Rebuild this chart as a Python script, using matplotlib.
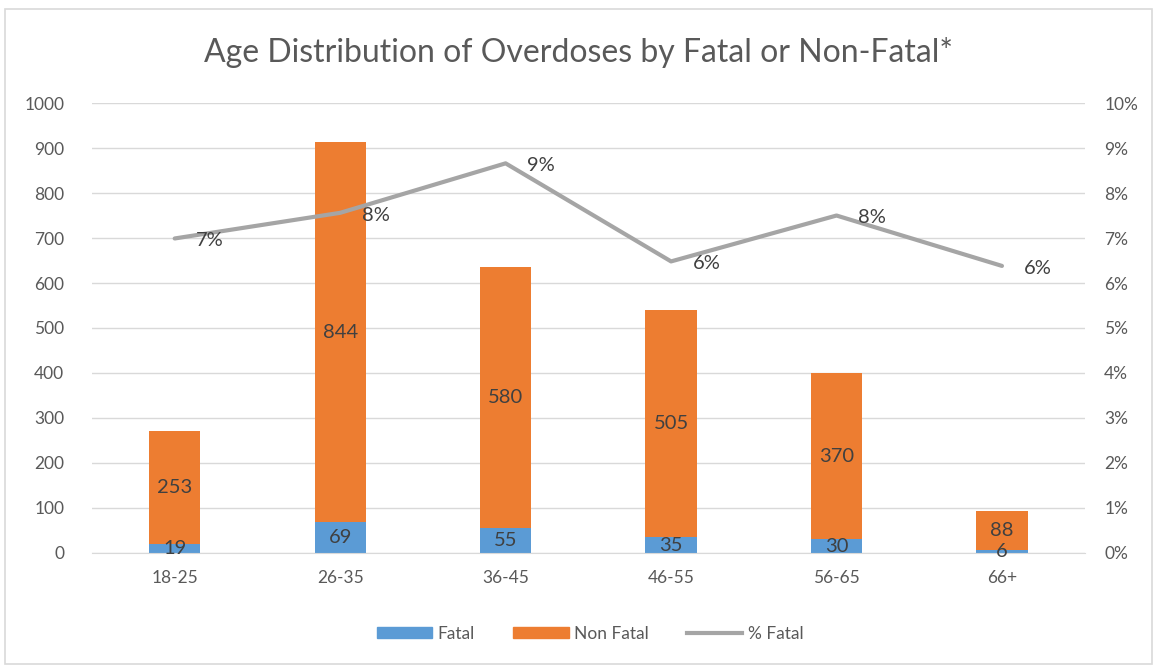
import matplotlib.pyplot as plt
from matplotlib.patches import Rectangle
from matplotlib.lines import Line2D

plt.rcParams['font.family'] = ['Lato', 'DejaVu Sans']

age_groups = ['18-25', '26-35', '36-45', '46-55', '56-65', '66+']
fatal = [19, 69, 55, 35, 30, 6]
non_fatal = [253, 844, 580, 505, 370, 88]
pct_fatal = [6.99, 7.56, 8.66, 6.48, 7.50, 6.38]
pct_labels = ['7%', '8%', '9%', '6%', '8%', '6%']

blue = '#5b9bd5'
orange = '#ed7d31'
gray = '#a5a5a5'
text_color = '#595959'
grid_color = '#d9d9d9'

fig = plt.figure(figsize=(11.57, 6.67), dpi=100)
ax = fig.add_axes([0.0795, 0.171, 0.858, 0.6745])

# chart border
fig.patches.append(Rectangle((0.004, 0.004), 0.992, 0.982, transform=fig.transFigure,
                             fill=False, edgecolor='#d9d9d9', lw=1.2))

x = list(range(len(age_groups)))
w = 0.31
ax.bar(x, fatal, w, color=blue, zorder=2)
ax.bar(x, non_fatal, w, bottom=fatal, color=orange, zorder=2)

for i in x:
    ax.text(i, fatal[i] / 2, str(fatal[i]), ha='center', va='center',
            fontsize=14.5, color='#404040', zorder=4)
    ax.text(i, fatal[i] + non_fatal[i] / 2, str(non_fatal[i]), ha='center', va='center',
            fontsize=14.5, color='#404040', zorder=4)

ax.set_xlim(-0.5, 5.5)
ax.set_ylim(0, 1000)
ax.set_yticks(range(0, 1001, 100))
ax.set_xticks(x)
ax.set_xticklabels(age_groups)
ax.grid(axis='y', color=grid_color, lw=1, zorder=0)
ax.set_axisbelow(True)
for s in ['top', 'left', 'right']:
    ax.spines[s].set_visible(False)
ax.spines['bottom'].set_color(grid_color)
ax.tick_params(length=0, colors=text_color, labelsize=12.5)
ax.tick_params(axis='y', pad=20)
ax.tick_params(axis='x', pad=12)

ax2 = ax.twinx()
ax2.plot(x, pct_fatal, color=gray, lw=3, solid_capstyle='round', zorder=3)
for i in x:
    ax2.text(i + 0.13, pct_fatal[i] - 0.05, pct_labels[i], ha='left', va='center',
             fontsize=14.5, color='#404040')
ax2.set_ylim(0, 10)
ax2.set_yticks(range(0, 11))
ax2.set_yticklabels([f'{v}%' for v in range(0, 11)])
for s in ax2.spines.values():
    s.set_visible(False)
ax2.tick_params(length=0, colors=text_color, labelsize=12.5, pad=14)

fig.text(0.5, 0.922, 'Age Distribution of Overdoses by Fatal or Non-Fatal*',
         ha='center', va='center', fontsize=23, color=text_color)

handles = [Rectangle((0, 0), 1, 1, color=blue),
           Rectangle((0, 0), 1, 1, color=orange),
           Line2D([0], [0], color=gray, lw=3)]
fig.legend(handles, ['Fatal', 'Non Fatal', '% Fatal'], loc='center',
           bbox_to_anchor=(0.51, 0.05), ncol=3, frameon=False, fontsize=12.5,
           labelcolor=text_color, handlelength=3.2, handleheight=0.6,
           handletextpad=0.3, columnspacing=2.2)

fig.savefig('out.png', dpi=100)
